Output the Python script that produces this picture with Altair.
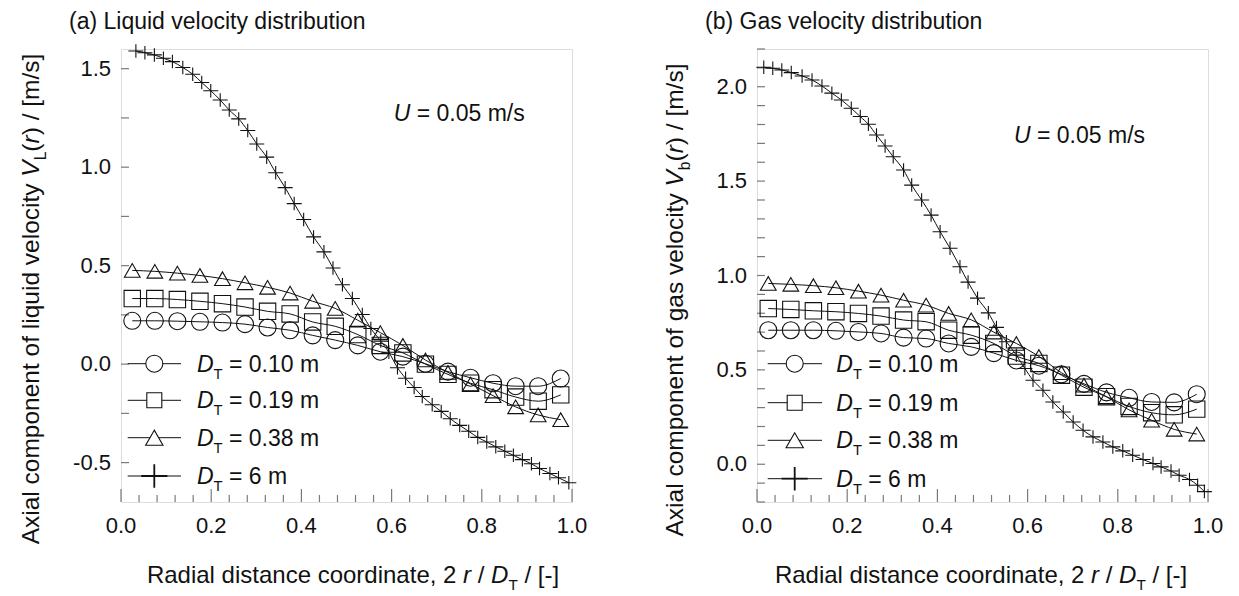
import altair as alt
import pandas as pd

# ---------------- values ----------------
r_coarse = [0.025, 0.075, 0.125, 0.175, 0.225, 0.275, 0.325, 0.375, 0.425, 0.475,
            0.525, 0.575, 0.625, 0.675, 0.725, 0.775, 0.825, 0.875, 0.925, 0.975]

liq_dt010 = [0.220, 0.220, 0.218, 0.215, 0.211, 0.203, 0.186, 0.172, 0.146, 0.122,
             0.095, 0.063, 0.038, 0.002, -0.038, -0.069, -0.097, -0.112, -0.112, -0.073]
liq_dt019 = [0.333, 0.333, 0.328, 0.319, 0.307, 0.290, 0.268, 0.255, 0.214, 0.192,
             0.150, 0.095, 0.057, 0.000, -0.052, -0.097, -0.130, -0.167, -0.188, -0.156]
liq_dt038 = [0.476, 0.471, 0.462, 0.450, 0.434, 0.413, 0.390, 0.361, 0.319, 0.283,
             0.223, 0.160, 0.095, 0.021, -0.042, -0.101, -0.160, -0.217, -0.258, -0.282]

r_fine_liq = [0.033, 0.053, 0.074, 0.094, 0.114, 0.137, 0.159, 0.179, 0.199, 0.220,
              0.240, 0.261, 0.281, 0.301, 0.323, 0.343, 0.364, 0.384, 0.405, 0.427,
              0.450, 0.470, 0.491, 0.513, 0.535, 0.554, 0.576, 0.594, 0.613, 0.631,
              0.650, 0.668, 0.690, 0.710, 0.730, 0.751, 0.771, 0.791, 0.811, 0.831,
              0.851, 0.870, 0.890, 0.910, 0.928, 0.951, 0.970, 0.993]
liq_dt6 = [1.590, 1.581, 1.570, 1.553, 1.536, 1.506, 1.472, 1.430, 1.388, 1.341,
           1.290, 1.245, 1.186, 1.118, 1.051, 0.972, 0.896, 0.815, 0.734, 0.646,
           0.570, 0.488, 0.403, 0.333, 0.252, 0.181, 0.117, 0.060, -0.018, -0.072,
           -0.119, -0.164, -0.206, -0.240, -0.277, -0.311, -0.341, -0.372, -0.395, -0.420,
           -0.442, -0.463, -0.485, -0.506, -0.530, -0.555, -0.577, -0.602]

gas_dt010 = [0.710, 0.710, 0.710, 0.707, 0.701, 0.693, 0.671, 0.666, 0.640, 0.622,
             0.589, 0.550, 0.522, 0.476, 0.426, 0.381, 0.352, 0.330, 0.328, 0.371]
gas_dt019 = [0.825, 0.820, 0.813, 0.808, 0.799, 0.785, 0.764, 0.755, 0.710, 0.684,
             0.640, 0.573, 0.534, 0.472, 0.408, 0.358, 0.306, 0.273, 0.262, 0.292]
gas_dt038 = [0.958, 0.953, 0.946, 0.935, 0.917, 0.896, 0.869, 0.843, 0.799, 0.765,
             0.700, 0.640, 0.571, 0.485, 0.419, 0.357, 0.288, 0.233, 0.185, 0.160]

r_fine_gas = [0.015, 0.035, 0.055, 0.076, 0.100, 0.122, 0.144, 0.166, 0.187, 0.209,
              0.229, 0.247, 0.265, 0.284, 0.302, 0.325, 0.343, 0.365, 0.386, 0.406,
              0.428, 0.450, 0.468, 0.489, 0.513, 0.531, 0.553, 0.575, 0.594, 0.612,
              0.634, 0.656, 0.679, 0.701, 0.723, 0.745, 0.767, 0.789, 0.811, 0.833,
              0.856, 0.878, 0.896, 0.918, 0.936, 0.959, 0.977, 0.992]
gas_dt6 = [2.103, 2.098, 2.089, 2.075, 2.057, 2.036, 2.004, 1.966, 1.930, 1.886,
           1.842, 1.801, 1.744, 1.686, 1.629, 1.559, 1.479, 1.400, 1.320, 1.232,
           1.144, 1.046, 0.965, 0.880, 0.802, 0.725, 0.649, 0.578, 0.507, 0.445,
           0.392, 0.330, 0.277, 0.224, 0.180, 0.145, 0.118, 0.092, 0.071, 0.048,
           0.025, 0.004, -0.014, -0.036, -0.058, -0.081, -0.111, -0.145]

SERIES = ["0.10 m", "0.19 m", "0.38 m", "6 m"]

x_label_values = [0.0, 0.2, 0.4, 0.6, 0.8, 1.0]
x_tick_values = [round(0.04 * i, 2) for i in range(26)]
liq_y_label_values = [-0.5, 0.0, 0.5, 1.0, 1.5]
liq_y_tick_values = [round(-0.5 + 0.25 * i, 2) for i in range(9)]
gas_y_label_values = [0.0, 0.5, 1.0, 1.5, 2.0]
gas_y_tick_values = [round(-0.2 + 0.1 * i, 1) for i in range(25)]

# ---------------- styling ----------------
FONT = "Liberation Sans"
INK = "#111111"
GRAY = "#7a7a7a"
PW, PH = 451, 453
PLUS = "M-1,0H1M0,-0.9V0.9"
SHAPES = ["circle", "square", "triangle-up", PLUS]
SIZES = [289, 225, 300, 680]
SWS = [1.1, 1.1, 1.1, 1.8]
shape_scale = alt.Scale(domain=SERIES, range=SHAPES)
size_scale = alt.Scale(domain=SERIES, range=SIZES)
sw_scale = alt.Scale(domain=SERIES, range=SWS)

WIDTHS = {" ": 278, "(": 333, ")": 333, ",": 278, "-": 333, ".": 278, "/": 278,
          "=": 584, "[": 278, "]": 278,
          "A": 667, "D": 722, "G": 778, "L": 556, "R": 722, "T": 611, "U": 722, "V": 667,
          "a": 556, "b": 556, "c": 500, "d": 556, "e": 556, "f": 278, "g": 556,
          "i": 222, "l": 222, "m": 833, "n": 556, "o": 556, "p": 556, "q": 556,
          "r": 333, "s": 500, "t": 278, "u": 556, "v": 500, "x": 500, "y": 500}


def tw(s, size):
    return sum(WIDTHS.get(c, 556) for c in s) * size / 1000.0


ONE = pd.DataFrame({"k": [0]})


def fmt(v):
    return ("-" if v < 0 else "") + "%.1f" % abs(v)


def text_layer(t, x, y, size, italic=False, angle=0):
    kw = dict(text=t, font=FONT, fontSize=size, fontStyle="italic" if italic else "normal",
              align="left", baseline="alphabetic", color=INK)
    if angle:
        kw["angle"] = angle
    return alt.Chart(ONE).mark_text(**kw).encode(x=alt.value(x), y=alt.value(y))


def rich(pieces, x, y, size, anchor="start", angle=0, sub_scale=0.64, sub_shift=0.3):
    """Pieces of (text, italic, subscript) laid side by side; spaces are advanced, not drawn."""
    sizes = [size * sub_scale if s else size for _, _, s in pieces]
    total = sum(tw(t, sz) for (t, _, _), sz in zip(pieces, sizes))
    off = -total / 2 if anchor == "middle" else 0.0
    out = []
    for (t, it, sub), sz in zip(pieces, sizes):
        shift = size * sub_shift if sub else 0.0
        lead = len(t) - len(t.lstrip(" "))
        core = t.strip(" ")
        pos = off + tw(" " * lead, sz)
        if core:
            if angle == 270:
                out.append(text_layer(core, x + shift, y - pos, sz, it, 270))
            else:
                out.append(text_layer(core, x + pos, y + shift, sz, it))
        off += tw(t, sz)
    return out


def panel(curves, y_domain, y_labels, y_ticks, title, ytitle, u_pos, leg_rows, leg_line,
          leg_mark_x, leg_text_x, ytitle_x, ytitle_y, xtitle_cx):
    df = pd.concat([pd.DataFrame({"r": r, "v": v, "dt": s}) for r, v, s in curves],
                   ignore_index=True)
    xs = alt.Scale(domain=[0, 1], nice=False, zero=False)
    ys = alt.Scale(domain=y_domain, nice=False, zero=False)
    ax_common = dict(title=None, grid=False, ticks=False, labels=False,
                     domainColor=GRAY, domainWidth=1.5)
    layers = []
    layers.append(alt.Chart(df).mark_line(color=INK, strokeWidth=1.0, interpolate="monotone").encode(
        x=alt.X("r:Q", scale=xs, axis=alt.Axis(**ax_common)),
        y=alt.Y("v:Q", scale=ys, axis=alt.Axis(**ax_common)),
        detail="dt:N"))
    # inward ticks
    majors = [v for v in x_tick_values if v in x_label_values]
    minors = [v for v in x_tick_values if v not in x_label_values]
    layers.append(alt.Chart(pd.DataFrame({"t": minors})).mark_rule(color=GRAY, strokeWidth=1.2).encode(
        x=alt.X("t:Q", scale=xs, axis=None), y=alt.value(PH), y2=alt.value(PH - 7)))
    layers.append(alt.Chart(pd.DataFrame({"t": majors})).mark_rule(color=GRAY, strokeWidth=1.2).encode(
        x=alt.X("t:Q", scale=xs, axis=None), y=alt.value(PH), y2=alt.value(PH - 13)))
    layers.append(alt.Chart(pd.DataFrame({"t": y_ticks})).mark_rule(color=GRAY, strokeWidth=1.2).encode(
        y=alt.Y("t:Q", scale=ys, axis=None), x=alt.value(0), x2=alt.value(8)))
    # tick labels
    layers.append(alt.Chart(pd.DataFrame({"t": x_label_values, "lab": [fmt(v) for v in x_label_values]}))
                  .mark_text(font=FONT, fontSize=22, color=INK, align="center", baseline="alphabetic")
                  .encode(x=alt.X("t:Q", scale=xs, axis=None), y=alt.value(PH + 31), text="lab:N"))
    layers.append(alt.Chart(pd.DataFrame({"t": y_labels, "lab": [fmt(v) for v in y_labels]}))
                  .mark_text(font=FONT, fontSize=22, color=INK, align="right", baseline="middle")
                  .encode(y=alt.Y("t:Q", scale=ys, axis=None), x=alt.value(-10), text="lab:N"))
    # markers
    layers.append(alt.Chart(df).mark_point(filled=False, color=INK, opacity=1).encode(
        x=alt.X("r:Q", scale=xs, axis=None), y=alt.Y("v:Q", scale=ys, axis=None),
        shape=alt.Shape("dt:N", scale=shape_scale, legend=None),
        size=alt.Size("dt:N", scale=size_scale, legend=None),
        strokeWidth=alt.StrokeWidth("dt:N", scale=sw_scale, legend=None)))
    # legend
    for i, s in enumerate(SERIES):
        yy = leg_rows[i]
        layers.append(alt.Chart(ONE).mark_rule(color=INK, strokeWidth=1).encode(
            x=alt.value(leg_line[0]), x2=alt.value(leg_line[1]), y=alt.value(yy)))
        layers.append(alt.Chart(ONE).mark_point(shape=SHAPES[i], size=SIZES[i], strokeWidth=SWS[i],
                                                filled=True, fill="white", stroke=INK, opacity=1).encode(
            x=alt.value(leg_mark_x), y=alt.value(yy)))
        layers += rich([("D", True, False), ("T", False, True), (" = " + s, False, False)],
                       leg_text_x, yy + 8, 23)
    # annotations
    layers.append(text_layer(title, -52, -20, 23))
    layers += rich([("U", True, False), (" = 0.05 m/s", False, False)], u_pos[0], u_pos[1], 23)
    layers += rich([("Radial distance coordinate, 2 ", False, False), ("r", True, False),
                    (" / ", False, False), ("D", True, False), ("T", False, True),
                    (" / [-]", False, False)], xtitle_cx, 534, 24, anchor="middle")
    layers += rich(ytitle, ytitle_x, ytitle_y, 24.5, anchor="middle", angle=270)
    return alt.layer(*layers).properties(width=PW, height=PH)


left = panel(
    [(r_coarse, liq_dt010, SERIES[0]), (r_coarse, liq_dt019, SERIES[1]),
     (r_coarse, liq_dt038, SERIES[2]), (r_fine_liq, liq_dt6, SERIES[3])],
    [-0.7, 1.6], liq_y_label_values, liq_y_tick_values,
    "(a) Liquid velocity distribution",
    [("Axial component of liquid velocity ", False, False), ("V", True, False),
     ("L", False, True), ("(", False, False), ("r", True, False), (") / [m/s]", False, False)],
    (272.7, 72.3), [314.7, 351.3, 388.7, 427.0], (6.7, 60), 33.3, 76, -82, 250, 232)

right = panel(
    [(r_coarse, gas_dt010, SERIES[0]), (r_coarse, gas_dt019, SERIES[1]),
     (r_coarse, gas_dt038, SERIES[2]), (r_fine_gas, gas_dt6, SERIES[3])],
    [-0.2, 2.2], gas_y_label_values, gas_y_tick_values,
    "(b) Gas velocity distribution",
    [("Axial component of gas velocity ", False, False), ("V", True, False),
     ("b", False, True), ("(", False, False), ("r", True, False), (") / [m/s]", False, False)],
    (257, 94), [314.7, 353.7, 391.3, 429.7], (10.7, 65), 37.7, 79.3, -74, 251, 224)

chart = alt.hconcat(left, right, spacing=74).properties(
    padding={"left": 10, "top": 2, "right": 0, "bottom": 0}
).configure_view(stroke=None).configure(background="white")

chart.save("out.html", embed_options={"renderer": "svg", "actions": False})
